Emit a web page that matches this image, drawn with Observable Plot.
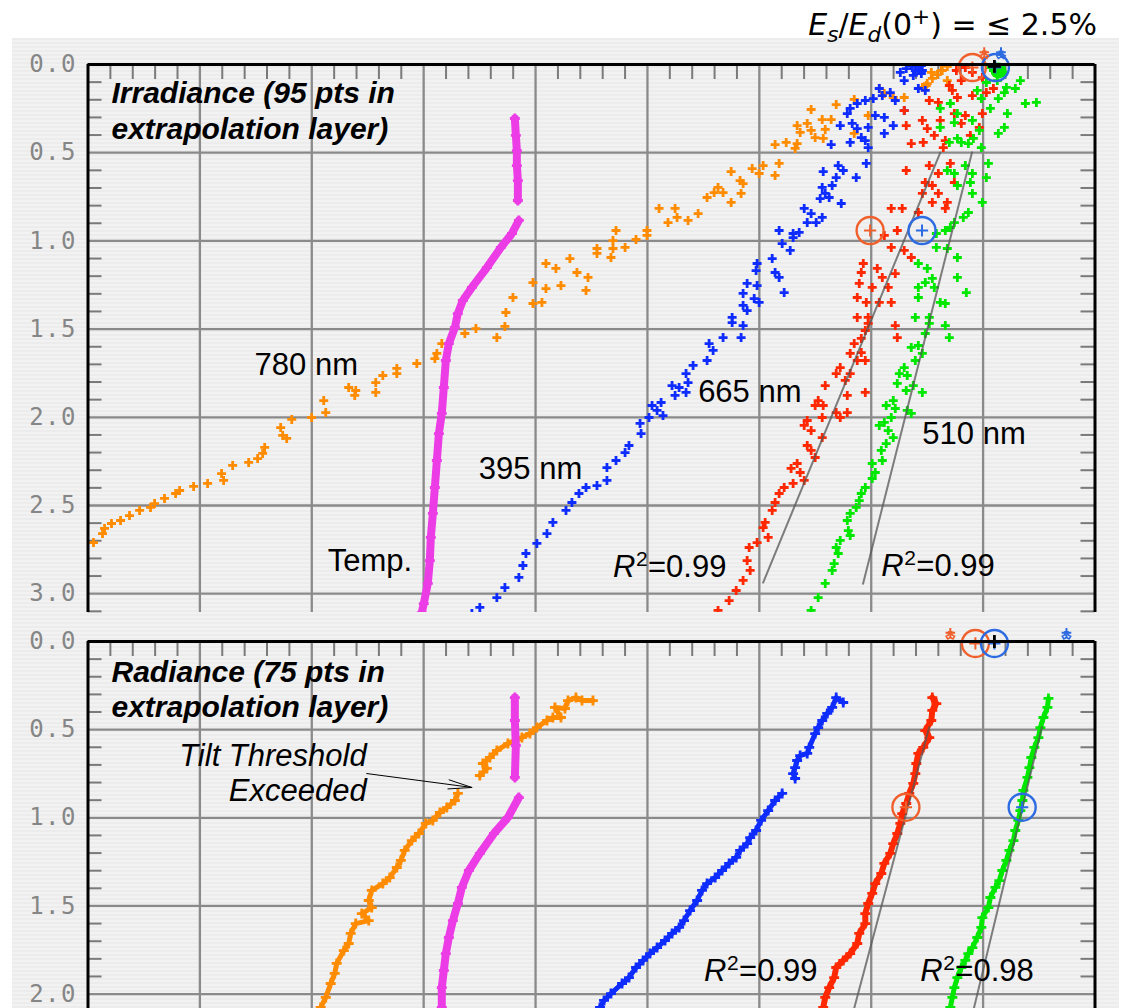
<!DOCTYPE html>
<html><head><meta charset="utf-8">
<script src="https://cdn.jsdelivr.net/npm/d3@7"></script>
<script src="https://cdn.jsdelivr.net/npm/@observablehq/plot@0.6"></script>
<style>
html,body{margin:0;padding:0;background:#fff;}
#wrap{position:relative;width:1124px;height:1008px;overflow:hidden;}
#bg{position:absolute;left:12px;top:38px;width:1107px;height:970px;background:repeating-linear-gradient(#ececec 0 2px,#f2f2f2 2px 4px);}
#title{position:absolute;right:27px;top:7px;font-family:"DejaVu Sans";font-size:30px;line-height:36px;white-space:nowrap;color:#000}
#title sub,#title sup{line-height:0;font-size:0.72em}
#top,#bot{position:absolute;left:0}
#top{top:38px}
#bot{top:612px}
g[font-family="DejaVu Sans Mono"] text{letter-spacing:1.5px}
</style></head><body>
<div id="wrap">
<div id="bg"></div>
<div id="title"><i>E</i><sub><i>s</i></sub>/<i>E</i><sub><i>d</i></sub>(0<sup>+</sup>) = ≤ 2.5%</div>
<div id="top"></div>
<div id="bot"></div>
</div>
<script>
// ---------- DATA: [x (grid units), depth (m)] ----------
const yTicksTop = [0, 0.5, 1.0, 1.5, 2.0, 2.5, 3.0];
const yTicksBot = [0, 0.5, 1.0, 1.5, 2.0];

// Irradiance panel
const irr780 = [[7.421,0.017],[7.537,0.045],[7.680,0.091],[7.627,0.034],[7.492,0.119],[7.457,0.130],[7.501,0.108],[7.546,0.079],[7.591,0.057],[7.635,0.034],[7.680,0.011],
[7.072,0.136],[7.117,0.164],[7.197,0.187],[7.295,0.187],[6.848,0.198],[6.687,0.227],[6.463,0.255],[6.973,0.289],[6.562,0.312],[6.642,0.312],[6.338,0.346],[6.428,0.334],[6.365,0.385],[6.463,0.374],[6.589,0.368],[6.848,0.391],[6.499,0.414],[6.571,0.419],[6.141,0.454],[6.240,0.442],[6.338,0.448],[6.320,0.476],[6.177,0.561],[6.034,0.573],[5.936,0.590],[5.748,0.607],[5.998,0.618],[5.828,0.658],[5.855,0.675],[6.141,0.629],[5.631,0.697],[5.533,0.754],[5.596,0.726],[5.676,0.726],[5.837,0.731],[5.748,0.782],[5.247,0.816],[5.104,0.816],[5.265,0.867],[5.184,0.896],[5.363,0.884],[5.453,0.845],[4.996,0.941],[4.719,0.941],[4.898,0.992],[4.996,0.969],[4.692,0.998],[4.549,1.043],[4.549,1.071],[4.692,1.043],[4.674,1.094],[4.800,1.037],[4.307,1.100],[4.370,1.179],[4.469,1.207],[4.451,1.281],[4.227,1.253],[4.093,1.128],[4.182,1.156],[3.977,1.236],[4.093,1.270],[3.798,1.321],[3.977,1.355],[4.057,1.349],[3.735,1.406],[3.368,1.525],[3.467,1.497],[3.654,1.548],[3.726,1.485],[3.162,1.582],[3.118,1.638],[3.100,1.667],[2.939,1.695],[2.760,1.723],[2.760,1.752],[2.635,1.763],[2.572,1.803],[2.572,1.859],[2.330,1.831],[2.393,1.848],[2.384,1.876],[2.107,1.905],[2.125,1.973],[1.999,2.001],[1.821,2.012],[1.722,2.058],[1.740,2.103],[1.776,2.120],[1.579,2.171],[1.561,2.205],[1.516,2.234],[1.436,2.256],[1.293,2.273],[1.194,2.319],[1.212,2.358],[1.069,2.375],[0.944,2.392],[0.819,2.415],[0.783,2.432],[0.684,2.460],[0.595,2.489],[0.559,2.511],[0.461,2.528],[0.371,2.557],[0.291,2.585],[0.210,2.602],[0.148,2.630],[0.130,2.659],[0.049,2.710]];

const irr395 = [[7.358,0.006],[7.421,0.017],[7.260,0.045],[7.376,0.062],[7.295,0.091],[7.313,0.023],[7.457,0.034],[7.367,0.002],[7.412,0.011],[7.448,0.006],[7.394,0.034],[7.448,0.051],
[7.421,0.136],[7.483,0.147],[7.072,0.136],[7.170,0.159],[7.099,0.176],[7.215,0.204],[7.295,0.261],[7.018,0.193],[6.947,0.204],[6.875,0.221],[6.812,0.249],[6.786,0.278],[7.036,0.289],[7.117,0.300],[7.197,0.346],[7.117,0.391],[6.723,0.346],[6.830,0.334],[6.875,0.363],[6.973,0.357],[6.642,0.454],[6.812,0.442],[6.911,0.414],[6.973,0.471],[6.947,0.431],[6.956,0.561],[6.705,0.573],[6.571,0.607],[6.750,0.601],[6.687,0.641],[6.866,0.641],[6.651,0.686],[6.562,0.697],[6.589,0.731],[6.624,0.754],[6.732,0.788],[6.544,0.760],[6.401,0.816],[6.463,0.845],[6.562,0.867],[6.428,0.896],[6.508,0.896],[6.356,0.952],[6.177,0.941],[6.302,0.958],[6.204,1.015],[6.276,1.054],[6.302,0.981],[5.980,1.128],[5.971,1.168],[6.115,1.100],[6.141,1.179],[6.177,1.207],[6.222,1.293],[5.891,1.241],[5.980,1.253],[5.855,1.298],[5.954,1.327],[5.998,1.349],[5.855,1.366],[5.891,1.395],[5.757,1.434],[5.757,1.463],[5.855,1.480],[5.676,1.548],[5.837,1.548],[5.551,1.582],[5.587,1.621],[5.533,1.678],[5.408,1.706],[5.345,1.752],[5.363,1.803],[5.283,1.831],[5.220,1.820],[5.345,1.859],[5.247,1.876],[5.122,1.916],[5.041,1.933],[5.086,1.961],[5.139,1.990],[5.014,2.001],[4.934,2.035],[4.943,2.092],[4.835,2.160],[4.800,2.200],[4.719,2.245],[4.638,2.285],[4.638,2.358],[4.549,2.387],[4.451,2.398],[4.388,2.432],[4.325,2.483],[4.272,2.528],[4.155,2.596],[4.102,2.659],[4.012,2.715],[3.914,2.772],[3.887,2.840],[3.851,2.908],[3.726,2.965],[3.654,3.022],[3.502,3.078],[3.431,3.112]];

const irr665 = [[7.841,0.017],[7.904,0.045],[7.805,0.091],[7.993,0.074],[7.761,0.034],[7.698,0.119],[7.725,0.147],[7.770,0.187],[7.904,0.176],[8.029,0.159],[8.092,0.136],[7.519,0.204],[7.295,0.261],[7.600,0.215],[7.743,0.278],[7.841,0.289],[7.993,0.278],[7.313,0.346],[7.457,0.317],[7.501,0.363],[7.617,0.317],[7.805,0.334],[7.966,0.357],[7.358,0.448],[7.465,0.442],[7.564,0.402],[7.662,0.431],[7.644,0.471],[7.886,0.402],[7.313,0.601],[7.519,0.573],[7.600,0.618],[7.707,0.561],[7.483,0.669],[7.546,0.686],[7.743,0.669],[7.457,0.731],[7.600,0.731],[7.680,0.782],[7.546,0.782],[7.662,0.816],[7.179,0.816],[7.277,0.816],[7.421,0.839],[7.233,0.941],[7.117,0.969],[7.179,1.037],[7.295,1.054],[7.358,1.094],[6.929,1.128],[6.911,1.179],[7.054,1.156],[7.215,1.185],[7.099,1.207],[6.893,1.241],[7.009,1.264],[7.152,1.264],[6.875,1.321],[6.956,1.349],[7.072,1.349],[7.179,1.349],[6.875,1.434],[6.973,1.434],[6.973,1.468],[6.947,1.508],[6.911,1.553],[6.848,1.582],[6.812,1.638],[6.911,1.633],[6.875,1.678],[6.947,1.678],[7.215,1.480],[7.233,1.548],[6.723,1.718],[6.687,1.752],[6.812,1.752],[6.768,1.791],[6.589,1.820],[6.947,1.859],[6.786,1.876],[6.526,1.905],[6.499,1.933],[6.571,1.933],[6.687,1.973],[6.786,1.973],[6.723,2.001],[6.562,2.001],[6.428,2.018],[6.401,2.046],[6.463,2.075],[6.562,2.115],[6.428,2.160],[6.463,2.188],[6.499,2.228],[6.338,2.262],[6.284,2.290],[6.365,2.313],[6.401,2.358],[6.302,2.375],[6.222,2.398],[6.177,2.432],[6.141,2.483],[6.115,2.528],[6.052,2.596],[6.034,2.625],[6.079,2.681],[5.980,2.710],[5.909,2.738],[5.891,2.812],[5.918,2.868],[5.855,2.925],[5.793,2.982],[5.730,3.039],[5.631,3.095]];

const irr510 = [[8.065,0.017],[8.190,0.045],[8.127,0.091],[8.029,0.102],[8.208,0.130],[8.333,0.091],[8.288,0.136],[8.378,0.221],[8.476,0.215],[8.190,0.159],[8.136,0.193],[8.217,0.278],[8.190,0.357],[8.136,0.391],[8.065,0.249],[7.984,0.193],[7.948,0.147],[7.617,0.249],[7.707,0.221],[7.770,0.278],[7.617,0.357],[7.743,0.329],[7.904,0.317],[7.966,0.374],[7.913,0.419],[7.805,0.442],[7.868,0.448],[7.984,0.471],[7.698,0.442],[7.770,0.419],[8.047,0.561],[8.029,0.641],[7.993,0.782],[7.841,0.573],[7.904,0.618],[7.886,0.669],[7.680,0.601],[7.743,0.618],[7.904,0.731],[7.770,0.686],[7.868,0.839],[7.823,0.867],[7.743,0.896],[7.662,0.941],[7.582,0.958],[7.707,0.924],[7.582,1.037],[7.680,1.043],[7.770,1.094],[7.421,1.128],[7.501,1.156],[7.546,1.213],[7.483,1.236],[7.770,1.207],[7.421,1.264],[7.850,1.293],[7.564,1.264],[7.617,1.349],[7.662,1.355],[7.421,1.321],[7.394,1.434],[7.519,1.434],[7.519,1.468],[7.483,1.525],[7.662,1.480],[7.698,1.548],[7.421,1.593],[7.358,1.604],[7.457,1.638],[7.394,1.678],[7.295,1.718],[7.251,1.752],[7.322,1.763],[7.376,1.820],[7.233,1.808],[7.313,1.848],[7.457,1.859],[7.197,1.905],[7.134,1.933],[7.215,1.950],[7.322,1.961],[7.358,1.978],[7.179,2.001],[7.117,2.029],[7.072,2.046],[7.152,2.075],[7.197,2.115],[7.134,2.149],[7.090,2.188],[7.099,2.245],[7.009,2.262],[7.036,2.313],[7.009,2.347],[6.947,2.398],[6.911,2.432],[6.893,2.472],[6.866,2.511],[6.812,2.545],[6.786,2.585],[6.795,2.642],[6.812,2.670],[6.723,2.698],[6.687,2.738],[6.705,2.772],[6.669,2.829],[6.651,2.868],[6.589,2.942],[6.526,3.022],[6.463,3.095]];

const tempIrrUpper = [[3.815,0.306],[3.824,0.402],[3.833,0.488],[3.833,0.573],[3.842,0.658],[3.842,0.771]];
const tempIrrLower = [[3.851,0.884],[3.789,0.958],[3.690,1.037],[3.565,1.151],[3.431,1.264],[3.350,1.338],[3.305,1.412],[3.279,1.491],[3.225,1.582],[3.198,1.678],[3.180,1.831],[3.162,1.978],[3.136,2.092],[3.118,2.245],[3.100,2.398],[3.082,2.545],[3.064,2.681],[3.055,2.812],[3.037,2.942],[3.001,3.056],[2.983,3.107]];

const fitIrr665 = [[7.617,0.499],[6.034,2.937]];
const fitIrr510 = [[7.901,0.498],[6.927,2.944]];
const circIrrOrange = [[6.990,0.941],[7.904,0.017]];
const circIrrBlue = [[7.454,0.941],[8.110,0.017]];
const surfIrrOrange = [[8.010,-0.070]];
const surfIrrBlue = [[8.160,-0.070]];

// Radiance panel
const rad780Upper = [[4.513,0.335],[4.415,0.335],[4.361,0.318],[4.290,0.335],[4.263,0.380],[4.173,0.374],[4.227,0.431],[4.155,0.431],[4.102,0.448],[4.012,0.488],[3.950,0.522],[3.878,0.545],[3.753,0.579],[3.654,0.618],[3.592,0.658],[3.529,0.692],[3.565,0.720],[3.502,0.760]];
const rad780Lower = [[3.306,0.862],[3.279,0.902],[3.207,0.942],[3.145,0.970],[3.082,1.015],[3.019,1.032],[2.957,1.089],[2.894,1.129],[2.831,1.185],[2.796,1.242],[2.760,1.282],[2.697,1.339],[2.635,1.373],[2.536,1.412],[2.509,1.469],[2.536,1.509],[2.447,1.543],[2.509,1.583],[2.393,1.600],[2.348,1.656],[2.330,1.713],[2.286,1.753],[2.223,1.826],[2.205,1.883],[2.169,1.940],[2.125,2.019],[2.080,2.076]];
const rad395Upper = [[6.750,0.346],[6.687,0.318],[6.651,0.374],[6.607,0.408],[6.562,0.448],[6.526,0.488],[6.499,0.522],[6.446,0.601],[6.428,0.635],[6.365,0.647],[6.338,0.675],[6.320,0.715],[6.302,0.749],[6.320,0.777]];
const rad395Lower = [[6.204,0.862],[6.141,0.902],[6.079,0.959],[6.016,1.015],[5.971,1.072],[5.918,1.112],[5.891,1.146],[5.828,1.185],[5.793,1.225],[5.730,1.259],[5.667,1.299],[5.605,1.339],[5.533,1.373],[5.488,1.412],[5.444,1.469],[5.381,1.526],[5.327,1.583],[5.283,1.622],[5.220,1.656],[5.157,1.696],[5.086,1.736],[5.023,1.770],[4.961,1.809],[4.898,1.849],[4.835,1.906],[4.773,1.940],[4.674,1.997],[4.612,2.036],[4.576,2.076]];
const rad665 = [[7.546,0.318],[7.582,0.352],[7.546,0.391],[7.537,0.448],[7.483,0.505],[7.519,0.545],[7.465,0.601],[7.421,0.635],[7.403,0.692],[7.394,0.749],[7.376,0.805],[7.340,0.862],[7.313,0.919],[7.277,0.976],[7.260,1.032],[7.233,1.089],[7.197,1.146],[7.170,1.202],[7.117,1.259],[7.090,1.316],[7.036,1.373],[7.009,1.429],[6.973,1.486],[6.947,1.543],[6.947,1.600],[6.893,1.656],[6.875,1.713],[6.812,1.770],[6.750,1.809],[6.687,1.849],[6.669,1.906],[6.624,1.963],[6.589,2.019],[6.571,2.076]];
const rad510 = [[8.584,0.323],[8.575,0.374],[8.539,0.431],[8.512,0.488],[8.494,0.545],[8.458,0.601],[8.431,0.658],[8.414,0.715],[8.396,0.771],[8.360,0.845],[8.351,0.902],[8.333,0.959],[8.315,1.015],[8.288,1.072],[8.271,1.129],[8.235,1.185],[8.208,1.242],[8.172,1.299],[8.145,1.356],[8.110,1.395],[8.065,1.452],[8.047,1.509],[7.993,1.566],[7.984,1.622],[7.948,1.679],[7.904,1.736],[7.868,1.770],[7.841,1.809],[7.805,1.849],[7.770,1.906],[7.743,1.963],[7.725,2.019],[7.707,2.076]];
const tempRadUpper = [[3.815,0.318],[3.815,0.448],[3.824,0.590],[3.815,0.771]];
const tempRadLower = [[3.851,0.885],[3.753,0.998],[3.628,1.089],[3.502,1.202],[3.404,1.299],[3.341,1.395],[3.306,1.486],[3.261,1.583],[3.225,1.679],[3.198,1.770],[3.180,1.866],[3.162,1.963],[3.162,2.076]];

const fitRad665 = [[7.518,0.486],[6.847,2.082]];
const fitRad510 = [[8.525,0.486],[7.917,2.082]];
const circRadOrange = [[7.310,0.940],[7.931,0.011]];
const circRadBlue = [[8.349,0.940],[8.101,0.011]];
const surfRadOrange = [[7.707,-0.050]];
const surfRadBlue = [[8.745,-0.050]];

// ---------- STYLE ----------
const C = {o:"#ff8c00", b:"#0f2cff", r:"#ff2800", g:"#00e800", m:"#ec3ce6", co:"#f0602c", cb:"#2d6be2", fit:"#555555"};
const X = d => d[0], Y = d => d[1];
const PXU = 111.78, PYU = 176.4;

function gridMarks(depthMax, yTicks) {
  const xMinor = d3.range(1, 45).map(i => i / 5).filter(v => Math.abs(v - Math.round(v)) > 1e-6);
  const yMinor = d3.range(1, Math.floor(depthMax * 10) + 1).map(i => i / 10).filter(v => Math.abs(v * 2 - Math.round(v * 2)) > 1e-6);
  const tl = 15 / PYU, tx = 14 / PXU;
  return [
    Plot.ruleX(d3.range(1, 9), {stroke: "#8a8a8a", strokeWidth: 2.3}),
    Plot.ruleY(yTicks.filter(v => v > 0), {stroke: "#8a8a8a", strokeWidth: 2.3}),
    Plot.ruleX(xMinor, {y1: 0, y2: tl, stroke: "#7a7a7a", strokeWidth: 2}),
    Plot.ruleY(yMinor, {x1: 0, x2: tx, stroke: "#7a7a7a", strokeWidth: 2}),
    Plot.ruleY(yMinor, {x1: 9 - tx, x2: 9, stroke: "#7a7a7a", strokeWidth: 2})
  ];
}
function frameMarks(yTicks) {
  return [
    Plot.ruleX([0, 9], {stroke: "#000", strokeWidth: 3}),
    Plot.ruleY([0], {stroke: "#000", strokeWidth: 3}),
    Plot.text(yTicks, {y: d => d, text: d => d.toFixed(1), frameAnchor: "left", dx: -11, textAnchor: "end", lineAnchor: "middle", fontFamily: "DejaVu Sans Mono", fontSize: 24, fill: "#868686"})
  ];
}
const pluses = (data, color, r = 3.0) => Plot.dot(data, {x: X, y: Y, symbol: "plus", r, stroke: color, strokeWidth: 2.8, clip: true});
const band = (data, color, w) => Plot.line(data, {x: X, y: Y, stroke: color, strokeWidth: w, clip: true});
const fit = data => Plot.line(data, {x: X, y: Y, stroke: C.fit, strokeOpacity: 0.75, strokeWidth: 2, clip: true});
const circles = (data, color) => [
  Plot.dot(data, {x: X, y: Y, r: 13.5, stroke: color, strokeWidth: 2.4, fill: "none"}),
  Plot.dot(data, {x: X, y: Y, symbol: "plus", r: 4, stroke: color, strokeWidth: 2})
];
const surf = (data, color) => [
  Plot.dot(data, {x: X, y: Y, symbol: "plus", r: 3.2, stroke: color, strokeWidth: 2}),
  Plot.dot(data, {x: X, y: Y, symbol: "wye", rotate: 180, r: 3.2, dy: 3, stroke: color, strokeWidth: 1.6})
];
const label = (t, x, y, opts = {}) => Plot.text([t], {x, y, text: d => d, lineAnchor: "bottom", textAnchor: "start", fontFamily: "Liberation Sans", fontSize: 31, fill: "#000", ...opts});
const rsq = (val, x, y) => [
  label("R", x, y, {fontStyle: "italic"}),
  label("2", x, y, {dx: 23, dy: -11, fontSize: 21}),
  label("=" + val, x, y, {dx: 35})
];

const topMax = 548 / PYU;
const topPlot = Plot.plot({
  width: 1124, height: 574,
  marginLeft: 87.5, marginRight: 29.5, marginTop: 26, marginBottom: 0,
  style: {background: "transparent", overflow: "visible"},
  x: {domain: [0, 9], axis: null},
  y: {domain: [0, topMax], reverse: true, axis: null},
  marks: [
    ...gridMarks(topMax, yTicksTop),
    pluses(irr780, C.o),
    pluses(irr395, C.b),
    pluses(irr665, C.r),
    pluses(irr510, C.g),
    band(tempIrrUpper, C.m, 8), band(tempIrrLower, C.m, 8),
    pluses(tempIrrUpper, C.m, 3.3), pluses(tempIrrLower, C.m, 3.3),
    fit(fitIrr665), fit(fitIrr510),
    Plot.dot([[8.137, 0.034]], {x: X, y: Y, r: 8, fill: C.g}),
    ...circles(circIrrOrange, C.co),
    ...circles(circIrrBlue, C.cb),
    ...surf(surfIrrOrange, C.co),
    ...surf(surfIrrBlue, C.cb),
    Plot.dot([[8.101, 0.011]], {x: X, y: Y, symbol: "plus", r: 4.2, stroke: "#000", strokeWidth: 2.8}),
    ...frameMarks(yTicksTop),
    label("Irradiance (95 pts in\nextrapolation layer)", 0.210, 0.420, {fontWeight: "bold", fontStyle: "italic", fontSize: 30, lineHeight: 1.17}),
    label("780 nm", 1.489, 1.763),
    label("395 nm", 3.493, 2.347),
    label("665 nm", 5.453, 1.916),
    label("510 nm", 7.457, 2.149),
    label("Temp.", 2.143, 2.874),
    ...rsq("0.99", 4.692, 2.908),
    ...rsq("0.99", 7.090, 2.897)
  ]
});
document.getElementById("top").appendChild(topPlot);

const botMax = 367 / 176.3;
const botPlot = Plot.plot({
  width: 1124, height: 396,
  marginLeft: 87.5, marginRight: 29.5, marginTop: 29, marginBottom: 0,
  style: {background: "transparent", overflow: "visible"},
  x: {domain: [0, 9], axis: null},
  y: {domain: [0, botMax], reverse: true, axis: null},
  marks: [
    ...gridMarks(botMax, yTicksBot),
    band(rad780Upper, C.o, 5), band(rad780Lower, C.o, 5),
    pluses(rad780Upper, C.o, 3.3), pluses(rad780Lower, C.o, 3.3),
    band(rad395Upper, C.b, 5), band(rad395Lower, C.b, 5),
    pluses(rad395Upper, C.b, 3.3), pluses(rad395Lower, C.b, 3.3),
    band(rad665, C.r, 6), pluses(rad665, C.r, 3.3),
    band(rad510, C.g, 5), pluses(rad510, C.g, 3.3),
    band(tempRadUpper, C.m, 8), band(tempRadLower, C.m, 8),
    pluses(tempRadUpper, C.m, 3.3), pluses(tempRadLower, C.m, 3.3),
    fit(fitRad665), fit(fitRad510),
    ...circles(circRadOrange, C.co),
    ...circles(circRadBlue, C.cb),
    Plot.dot([[8.101, 0.0]], {x: X, y: Y, symbol: "plus", r: 4.2, stroke: "#000", strokeWidth: 2.8}),
    ...surf(surfRadOrange, C.co),
    ...surf(surfRadBlue, C.cb),
    ...frameMarks(yTicksBot),
    label("Radiance (75 pts in\nextrapolation layer)", 0.210, 0.431, {fontWeight: "bold", fontStyle: "italic", fontSize: 30, lineHeight: 1.17}),
    label("Tilt Threshold\nExceeded", 2.491, 0.902, {textAnchor: "end", fontStyle: "italic", lineHeight: 1.13}),
    Plot.arrow([[2.491, 0.749, 3.431, 0.828]], {x1: d => d[0], y1: d => d[1], x2: d => d[2], y2: d => d[3], stroke: "#000", strokeWidth: 1, headLength: 36, headAngle: 22}),
    ...rsq("0.99", 5.506, 1.923),
    ...rsq("0.98", 7.439, 1.923)
  ]
});
document.getElementById("bot").appendChild(botPlot);
</script>
</body></html>
